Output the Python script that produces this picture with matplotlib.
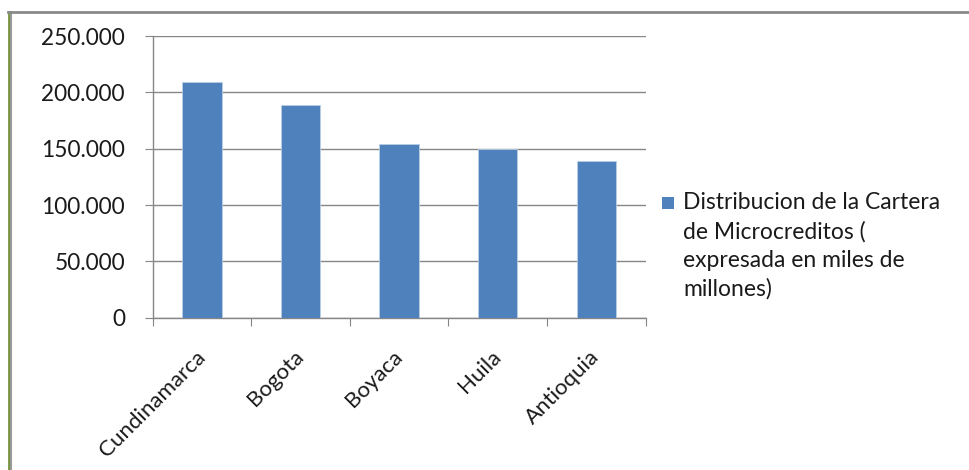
import matplotlib.pyplot as plt
import numpy as np
from matplotlib.lines import Line2D
from matplotlib.patches import Rectangle
from matplotlib.ticker import FuncFormatter

departamentos = ['Cundinamarca', 'Bogota', 'Boyaca', 'Huila', 'Antioquia']
cartera = [209500, 188900, 154300, 150000, 138900]
y_ticks = [0, 50000, 100000, 150000, 200000, 250000]
serie = 'Distribucion de la Cartera\nde Microcreditos (\nexpresada en miles de\nmillones)'

bar_color = '#4F81BD'
grid_color = '#868686'
text_color = '#1a1a1a'

plt.rcParams['font.family'] = ['Lato', 'DejaVu Sans']

fig = plt.figure(figsize=(9.7, 4.7), dpi=100)
ax = fig.add_axes([0.1574, 0.324, 0.5082, 0.5994])

x = np.arange(len(departamentos))
ax.bar(x, cartera, width=0.40, color=bar_color, edgecolor='#B9CDE5', linewidth=0.6, zorder=3)

ax.set_xlim(-0.5, len(departamentos) - 0.5)
ax.set_ylim(0, 250000)
ax.set_yticks(y_ticks)
ax.yaxis.set_major_formatter(FuncFormatter(lambda v, p: f'{int(v):,}'.replace(',', '.')))
ax.grid(axis='y', color=grid_color, linewidth=1.0, zorder=0)

# category ticks sit between the bars, labels under the bars
ax.set_xticks(np.arange(len(departamentos) + 1) - 0.5)
ax.set_xticklabels([])
ax.set_xticks(x, minor=True)
ax.set_xticklabels(departamentos, minor=True, rotation=45, ha='right', va='center',
                   rotation_mode='anchor', fontsize=16, color=text_color)
ax.tick_params(axis='x', which='minor', length=0, pad=26)
ax.tick_params(axis='x', which='major', length=6, color=grid_color)
ax.tick_params(axis='y', length=6, color=grid_color, labelsize=16.3,
               labelcolor=text_color, pad=14)

for s in ['top', 'right']:
    ax.spines[s].set_visible(False)
for s in ['left', 'bottom']:
    ax.spines[s].set_color(grid_color)
    ax.spines[s].set_linewidth(1.0)

# legend: square aligned with the first line of the wrapped label
fig.add_artist(Rectangle((662 / 970, 1 - 209 / 470), 12 / 970, 12 / 470,
                         facecolor=bar_color, edgecolor='none', transform=fig.transFigure))
fig.text(683 / 970, 1 - 192 / 470, serie, ha='left', va='top', fontsize=16.5,
         color=text_color, linespacing=1.44)

# frame around the picture
fig.add_artist(Line2D([9 / 970, 9 / 970], [0, 1 - 12 / 470], color='#77933C',
                      linewidth=2.0, transform=fig.transFigure))
fig.add_artist(Line2D([11 / 970, 11 / 970], [0, 1 - 12 / 470], color='#9a9a9a',
                      linewidth=1.5, transform=fig.transFigure))
fig.add_artist(Line2D([8 / 970, 1], [1 - 12 / 470, 1 - 12 / 470], color='#8a8a8a',
                      linewidth=2.0, transform=fig.transFigure))

fig.savefig('out.png', dpi=100)
